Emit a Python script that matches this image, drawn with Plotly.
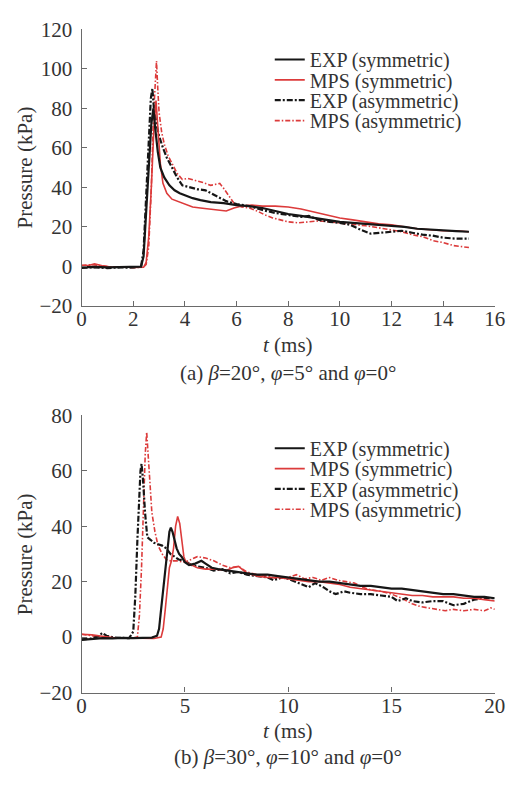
import plotly.graph_objects as go

# ---------------- (a) beta = 20 deg ----------------
t_exp_sym_a = [0, 0.5, 1.0, 1.5, 2.0, 2.3, 2.4, 2.5, 2.6, 2.7, 2.78, 2.85, 2.95, 3.05, 3.2, 3.4, 3.6, 3.8,
               4.0, 4.3, 4.6, 5.0, 5.5, 6.0, 6.5, 7.0, 7.5, 8.0, 8.5, 9.0, 9.5, 10.0, 10.5, 11.0, 11.5,
               12.0, 12.5, 13.0, 13.5, 14.0, 14.5, 15.0]
p_exp_sym_a = [-0.5, -0.3, -0.6, -0.4, -0.5, -0.2, 5, 25, 50, 72, 80, 70, 58, 50, 45, 41, 38.5, 37,
               36, 34.5, 33.5, 32.5, 32, 31, 30.5, 29.5, 28, 26.5, 25.5, 24.5, 23.5, 22.5, 22, 21.5, 21,
               20.5, 20, 19, 18.5, 18, 17.8, 17.5]

t_mps_sym_a = [0, 0.3, 0.5, 0.8, 1.2, 1.6, 2.0, 2.4, 2.5, 2.6, 2.7, 2.8, 2.88, 2.95, 3.05, 3.15, 3.3, 3.5,
               3.7, 4.0, 4.3, 4.6, 5.0, 5.3, 5.6, 5.9, 6.2, 6.6, 7.0, 7.5, 8.0, 8.5, 9.0, 9.5, 10.0,
               10.5, 11.0, 11.5, 12.0, 12.5, 13.0, 13.5, 14.0, 14.5, 15.0]
p_mps_sym_a = [0.2, 0.5, 1.2, 0.3, -0.5, -0.3, -0.6, -0.5, 2, 15, 40, 70, 84, 70, 52, 42, 37, 34,
               33, 31.5, 30, 29.5, 29, 28.5, 28, 29.5, 30.5, 31, 30.5, 30.5, 30, 29, 27.5, 26, 24.5,
               23.5, 22.5, 21.5, 21, 20, 19, 18.5, 18, 18, 17.5]

t_exp_asym_a = [0, 0.5, 1.0, 1.5, 2.0, 2.3, 2.4, 2.5, 2.6, 2.68, 2.74, 2.8, 2.9, 3.0, 3.15, 3.3, 3.5,
                3.7, 3.9, 4.2, 4.5, 4.8, 5.0, 5.3, 5.6, 6.0, 6.5, 7.0, 7.5, 8.0, 8.5, 8.8, 9.2, 9.6,
                10.0, 10.4, 10.8, 11.2, 11.6, 12.0, 12.4, 12.8, 13.2, 13.6, 14.0, 14.5, 15.0]
p_exp_asym_a = [-0.8, -0.5, -0.9, -0.6, -0.7, -0.3, 8, 35, 65, 85, 90, 80, 72, 66, 60, 55, 50,
                45, 41, 40, 39, 38.5, 37, 35, 33, 31.5, 30.5, 28.5, 27, 26, 25, 25.5, 23.5, 22.5,
                22, 21, 18.5, 16.5, 17, 17.5, 18, 17, 16, 15.5, 14.5, 14, 14]

t_mps_asym_a = [0, 0.4, 0.8, 1.2, 1.6, 2.0, 2.4, 2.5, 2.6, 2.7, 2.78, 2.85, 2.9, 2.95, 3.0, 3.1, 3.2,
                3.35, 3.5, 3.7, 3.9, 4.1, 4.4, 4.7, 5.0, 5.2, 5.35, 5.5, 5.7, 5.9, 6.2, 6.5, 6.8, 7.1,
                7.4, 7.7, 8.0, 8.4, 8.8, 9.2, 9.6, 10.0, 10.5, 11.0, 11.5, 12.0, 12.4, 12.8, 13.2,
                13.6, 14.0, 14.4, 14.8, 15.0]
p_mps_asym_a = [0.5, 0.8, 0.2, -0.4, -0.2, -0.5, -0.4, 1, 10, 40, 75, 95, 104, 90, 78, 68, 62,
                56, 52, 47, 44, 44.5, 43.5, 42.5, 41, 41.5, 42, 39.5, 36, 32, 30, 29.5, 28, 26,
                24.5, 23.5, 22.5, 22, 22.5, 23, 22.5, 22, 21.5, 20.5, 19.5, 18.5, 17.5, 16, 15,
                13, 12, 10.5, 10, 9.5]

# ---------------- (b) beta = 30 deg ----------------
t_exp_sym_b = [0, 0.5, 1.0, 1.5, 2.0, 2.5, 3.0, 3.4, 3.65, 3.75, 3.82, 3.97, 4.12, 4.25, 4.32, 4.4,
               4.5, 4.6, 4.72, 4.84, 5.0, 5.2, 5.5, 5.8, 6.0, 6.3, 6.6, 7.0, 7.5, 8.0, 8.5, 9.0, 9.5,
               10.0, 10.5, 11.0, 11.5, 12.0, 12.5, 13.0, 13.5, 14.0, 14.5, 15.0, 15.5, 16.0, 16.5,
               17.0, 17.5, 18.0, 18.5, 19.0, 19.5, 20.0]
p_exp_sym_b = [-1, -0.8, -0.4, -0.5, -0.3, -0.4, -0.3, -0.2, 0.5, 3, 8, 19, 31, 38, 39.5, 38,
               35, 32, 30, 29, 27, 26, 26.5, 27.5, 26.5, 25, 24.5, 24, 23.5, 23, 22.5, 22.5, 22,
               21.5, 21, 20.5, 20, 20, 19.5, 19, 18.5, 18.5, 18, 17.5, 17.5, 17, 16.5,
               16, 15.5, 15.5, 15, 14.5, 14.5, 14]

t_mps_sym_b = [0, 0.5, 1.0, 1.5, 2.0, 2.5, 3.0, 3.5, 3.85, 3.95, 4.05, 4.15, 4.25, 4.35, 4.45, 4.55,
               4.65, 4.75, 4.85, 4.95, 5.05, 5.3, 5.6, 6.0, 6.5, 7.0, 7.3, 7.6, 8.0, 8.5, 9.0, 9.5,
               10.0, 10.5, 11.0, 11.5, 12.0, 12.5, 13.0, 13.5, 14.0, 14.5, 15.0, 15.5, 16.0, 16.5,
               17.0, 17.5, 18.0, 18.5, 19.0, 19.5, 20.0]
p_mps_sym_b = [1, 0.8, 0.3, -0.2, -0.3, -0.4, -0.5, -0.5, 0, 3, 10, 19, 25, 27.5, 32, 40,
               43.5, 41, 35, 29, 27, 26, 25, 24.5, 24.5, 24, 25, 25.5, 23, 22, 21.5, 21.5,
               21, 20.5, 20, 20, 19.5, 19, 18, 17.5, 17, 16.5, 16, 15.5, 15, 15,
               14.5, 14.5, 14.5, 14, 14, 13.5, 13]

t_exp_asym_b = [0, 0.4, 0.8, 1.0, 1.2, 1.6, 2.0, 2.3, 2.5, 2.6, 2.7, 2.78, 2.85, 2.9, 2.97, 3.07,
                3.18, 3.35, 3.5, 3.7, 3.9, 4.1, 4.3, 4.5, 4.7, 5.0, 5.3, 5.6, 6.0, 6.4, 6.8, 7.2,
                7.6, 8.0, 8.5, 9.0, 9.3, 9.7, 10.0, 10.5, 11.0, 11.3, 11.7, 12.0, 12.3, 12.7, 13.0,
                13.5, 14.0, 14.5, 15.0, 15.3, 15.7, 16.0, 16.5, 17.0, 17.5, 18.0, 18.5, 19.0,
                19.5, 20.0]
p_exp_asym_b = [-0.8, -0.6, 0.2, 1.5, 0.5, -0.2, -0.3, -0.4, 2, 15, 35, 52, 60, 62.5, 57, 45,
                36, 35, 34, 33.5, 33, 32, 30, 29, 28, 27.5, 26, 25.5, 25, 24, 24.5, 23,
                23.5, 22.5, 22, 21.5, 20.5, 21.5, 21, 19.5, 18, 19.5, 18, 16.5, 15.5, 16.5, 16,
                15.5, 15.5, 15, 14.5, 13, 14, 13, 12.5, 13, 13, 11.5, 12, 13.5,
                14, 14]

t_mps_asym_b = [0, 0.4, 0.8, 1.2, 1.6, 2.0, 2.4, 2.7, 2.8, 2.9, 3.0, 3.08, 3.15, 3.22, 3.3, 3.4,
                3.55, 3.7, 3.9, 4.1, 4.3, 4.6, 5.0, 5.3, 5.6, 6.0, 6.4, 6.8, 7.2, 7.6, 8.0, 8.5,
                9.0, 9.5, 10.0, 10.4, 10.8, 11.2, 11.6, 12.0, 12.4, 12.8, 13.2, 13.6, 14.0, 14.5,
                15.0, 15.5, 16.0, 16.4, 16.8, 17.2, 17.6, 18.0, 18.5, 19.0, 19.5, 19.8, 20.0]
p_mps_asym_b = [1, 0.5, 0.2, -0.3, -0.4, -0.5, -0.4, 0, 8, 25, 48, 66, 74, 66, 55, 45,
                38, 33, 30, 28, 27.5, 27.5, 27, 28, 29, 28.5, 27.5, 26, 25, 25.5, 23.5, 22.5,
                22, 21, 21.5, 22.5, 21, 21.5, 20.5, 21.5, 20.5, 20, 19.5, 18, 17, 16.5,
                15.5, 14, 12, 11, 10.5, 10, 9.5, 10, 9.5, 10, 9.5, 10.5, 10]

legend_names = ["EXP (symmetric)", "MPS (symmetric)", "EXP (asymmetric)", "MPS (asymmetric)"]

BLACK = "#161616"
RED = "#dc3b3b"
styles = [
    dict(color=BLACK, width=2.2, dash="solid"),
    dict(color=RED, width=1.6, dash="solid"),
    dict(color=BLACK, width=2.2, dash="6px,2px,2px,2px"),
    dict(color=RED, width=1.6, dash="5px,2px,1.5px,2px"),
]

W, H = 530, 785
FONT = "Liberation Serif"
TXT = "#333333"
AX = "#6a6a6a"

fig = go.Figure()

panel_a = [(t_exp_sym_a, p_exp_sym_a), (t_mps_sym_a, p_mps_sym_a),
           (t_exp_asym_a, p_exp_asym_a), (t_mps_asym_a, p_mps_asym_a)]
panel_b = [(t_exp_sym_b, p_exp_sym_b), (t_mps_sym_b, p_mps_sym_b),
           (t_exp_asym_b, p_exp_asym_b), (t_mps_asym_b, p_mps_asym_b)]

# one legend per entry so the rows can sit tightly spaced like a printed key
legend_rows_a = [49, 70, 91, 112]
legend_rows_b = [450, 471, 492, 513]
legend_x_px = 273

layout_legends = {}
n = 0
for panel, rows, xa, ya in [(panel_a, legend_rows_a, "x", "y"), (panel_b, legend_rows_b, "x2", "y2")]:
    # draw in reverse so the black solid line ends up on top
    for i in [3, 2, 1, 0]:
        t, p = panel[i]
        n += 1
        lname = "legend" if n == 1 else f"legend{n}"
        fig.add_trace(go.Scatter(x=t, y=p, mode="lines", name=legend_names[i],
                                 line=styles[i], xaxis=xa, yaxis=ya, legend=lname))
        layout_legends[lname] = dict(
            x=legend_x_px / W, y=1 - rows[i] / H, xanchor="left", yanchor="middle",
            bgcolor="rgba(0,0,0,0)", borderwidth=0, itemwidth=30,
            font=dict(family=FONT, size=20, color=TXT), tracegroupgap=0,
        )

axis_common = dict(showline=True, linecolor=AX, linewidth=1.3, ticks="inside", ticklen=5,
                   tickcolor=AX, tickwidth=1.2, showgrid=False, zeroline=False,
                   tickfont=dict(family=FONT, size=21, color=TXT))

xdom = [79 / W, 505 / W]
fig.update_layout(
    width=W, height=H, margin=dict(l=0, r=0, t=0, b=0),
    paper_bgcolor="white", plot_bgcolor="white", showlegend=True,
    font=dict(family=FONT, color=TXT),
    xaxis=dict(domain=xdom, range=[0, 16], dtick=2, anchor="y", ticklabelstandoff=-6,
               **axis_common),
    yaxis=dict(domain=[1 - 303 / H, 1 - 18 / H], range=[-20, 120], dtick=20, anchor="x",
               ticklabelstandoff=4, **axis_common),
    xaxis2=dict(domain=xdom, range=[0, 20], dtick=5, anchor="y2", ticklabelstandoff=-6,
                **axis_common),
    yaxis2=dict(domain=[1 - 702 / H, 1 - 416 / H], range=[-20, 80], dtick=20, anchor="x2",
                ticklabelstandoff=4, **axis_common),
    **layout_legends,
)


def label(text, xpx, ypx, angle=0, size=20):
    fig.add_annotation(text=text, x=xpx / W, y=1 - ypx / H, xref="paper", yref="paper",
                       showarrow=False, textangle=angle, xanchor="center", yanchor="middle",
                       font=dict(family=FONT, size=size, color=TXT))


label("Pressure (kPa)", 21, 160, angle=-90, size=21)
label("Pressure (kPa)", 21, 559, angle=-90, size=21)
label("<i>t</i> (ms)", 292, 344, size=21)
label("<i>t</i> (ms)", 292, 742, size=21)
label("(a) <i>β</i>=20°, <i>φ</i>=5° and <i>φ</i>=0°", 292, 372, size=21)
label("(b) <i>β</i>=30°, <i>φ</i>=10° and <i>φ</i>=0°", 292, 768, size=21)

fig.write_html("out.html")
